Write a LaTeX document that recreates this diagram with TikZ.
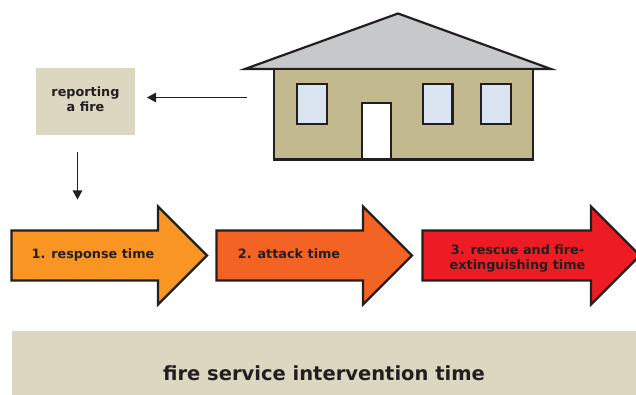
\documentclass[tikz,border=0pt]{standalone}
\usepackage{fontspec}
\setmainfont{DejaVu Sans}
\usetikzlibrary{arrows.meta}
\definecolor{ink}{HTML}{231F20}
\definecolor{sand}{HTML}{DBD7C0}
\definecolor{wall}{HTML}{C2B98F}
\definecolor{roof}{HTML}{C7C8CA}
\definecolor{glass}{HTML}{DAE5F1}
\definecolor{orangeA}{HTML}{F99522}
\definecolor{orangeC}{HTML}{F36323}
\definecolor{redC}{HTML}{ED1C24}
\tikzset{
  house/.style={draw=ink,line width=2.2pt,line join=miter},
  pane/.style={house,fill=glass},
  band/.style={fill=sand,draw=none,inner sep=0pt},
  timearrow/.style={draw=ink,line width=2.3pt,line join=miter},
  lab/.style={text=ink,font=\bfseries\fontsize{12.8}{15}\selectfont,align=center,inner sep=0pt},
  flow/.style={draw=ink,line width=1.1pt,-{Triangle[length=9pt,width=9.5pt]}}
}
\begin{document}
\begin{tikzpicture}[x=1pt,y=-1pt]
\useasboundingbox (0,0) rectangle (636,395);
\clip (0,0) rectangle (636,395);
% house
\draw[house,fill=roof] (245,69) -- (398,13.5) -- (551,69) -- cycle;
\draw[house,fill=wall] (274,69) rectangle (533,159.5);
\draw[pane] (297,84) rectangle (327,124);
\draw[pane] (423,84) rectangle (452.5,124);
\draw[pane] (481,84) rectangle (511,124);
\draw[house,fill=white] (362,103) rectangle (391,159.5);
% reporting box
\node[band,minimum width=99pt,minimum height=67pt,anchor=north west] (report) at (36,68) {};
\node[lab] (reporttext) at (85.5,99) {reporting\\a fire};
\coordinate (fromhouse) at (247,97.5);
\coordinate (toreport) at (147,97.5);
\coordinate (fromreport) at (77.5,152);
\coordinate (toarrow) at (77.5,199.5);
\draw[flow] (fromhouse) -- (toreport);
\draw[flow] (fromreport) -- (toarrow);
% time arrows
\draw[timearrow,fill=orangeA] (11.5,230.5) -- (158,230.5) -- (158,206.5) -- (207,255.5) -- (158,304.5) -- (158,280.5) -- (11.5,280.5) -- cycle;
\draw[timearrow,fill=orangeC] (216.5,230.5) -- (363,230.5) -- (363,206.5) -- (412,255.5) -- (363,304.5) -- (363,280.5) -- (216.5,280.5) -- cycle;
\draw[timearrow,fill=redC] (422.5,230.5) -- (591,230.5) -- (591,206.5) -- (640,255.5) -- (591,304.5) -- (591,280.5) -- (422.5,280.5) -- cycle;
\node[lab] (t1) at (93,255) {1. response time};
\node[lab] (t2) at (289,253.5) {2. attack time};
\node[lab] (t3) at (517.5,258.5) {3. rescue and fire-\\extinguishing time};
% bottom band
\node[band,minimum width=624pt,minimum height=64pt,anchor=north west] (bar) at (12,331) {};
\node[text=ink,font=\bfseries\fontsize{19.5}{22}\selectfont,inner sep=0pt] (bartext) at (324,373) {fire service intervention time};
\end{tikzpicture}
\end{document}
